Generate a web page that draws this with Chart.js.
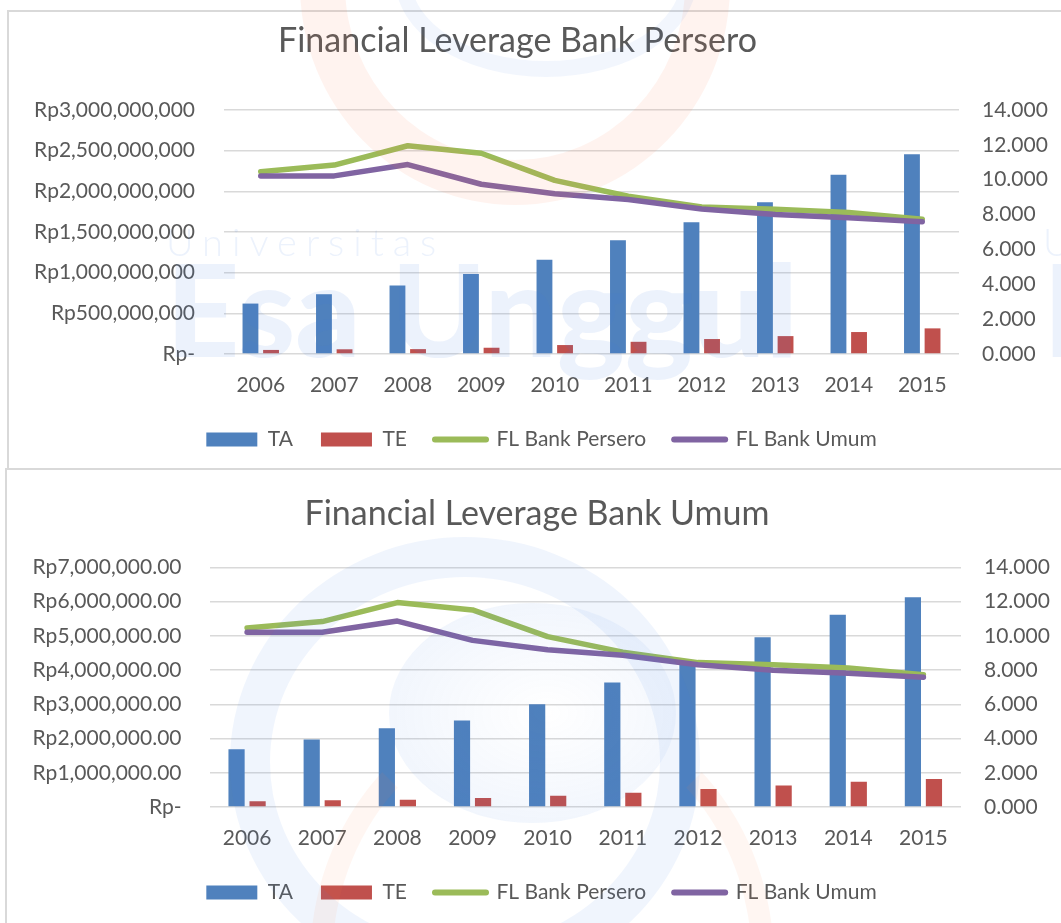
<!DOCTYPE html>
<html>
<head>
<meta charset="utf-8">
<title>Financial Leverage</title>
<script src="https://cdn.jsdelivr.net/npm/chart.js@4.4.1/dist/chart.umd.min.js"></script>
<style>
  html, body { margin: 0; padding: 0; background: #fff; }
  body { width: 1061px; height: 923px; overflow: hidden; position: relative; font-family: Lato, sans-serif; }
  .box { position: absolute; border: 2px solid #d9d9d9; }
  #box1 { left: 7px; top: 10px; width: 1100px; height: 456px; }
  #box2 { left: 5px; top: 468px; width: 1100px; height: 500px; }
  .wrap { position: absolute; left: 0; width: 1100px; }
  #wrap1 { top: 11px; height: 457px; }
  #wrap2 { top: 469px; height: 454px; }
  .title { position: absolute; left: 0; font-size: 34px; line-height: 34px; color: #595959; text-align: center; white-space: nowrap; }
  #title1 { top: 22px; width: 1035px; }
  #title2 { top: 495px; width: 1074px; }
  /* faint university watermark laid over the charts */
  .wm { position: absolute; pointer-events: none; white-space: nowrap; }
  .wm-small { font-size: 38px; font-weight: 300; letter-spacing: 9px; color: rgba(70, 130, 225, 0.10); line-height: 38px; }
  .wm-big { font-size: 128px; font-weight: 900; color: rgba(70, 130, 225, 0.10); line-height: 128px; }
  .ring { border-radius: 50%; }
</style>
</head>
<body>

<div class="box" id="box1"></div>
<div class="box" id="box2"></div>

<div class="wrap" id="wrap1"><canvas id="chartPersero" width="1100" height="457"></canvas></div>
<div class="wrap" id="wrap2"><canvas id="chartUmum" width="1100" height="454"></canvas></div>

<div class="title" id="title1">Financial Leverage Bank Persero</div>
<div class="title" id="title2">Financial Leverage Bank Umum</div>

<!-- watermark -->
<div class="wm ring" style="left:300px; top:-235px; width:340px; height:350px; border:45px solid rgba(250,125,80,0.09);"></div>
<div class="wm ring" style="left:395px; top:-120px; width:270px; height:165px; border:16px solid rgba(70,130,225,0.07);"></div>
<div class="wm wm-small" style="left:166px; top:222px;">Universitas</div>
<div class="wm wm-big" style="left:166px; top:244px;">Esa Unggul</div>
<div class="wm wm-small" style="left:1043px; top:222px;">Universitas</div>
<div class="wm wm-big" style="left:1043px; top:244px;">Esa Unggul</div>
<div class="wm ring" style="left:230px; top:537px; width:390px; height:370px; border:40px solid rgba(70,130,225,0.08);"></div>
<div class="wm ring" style="left:389px; top:603px; width:287px; height:220px; background:radial-gradient(ellipse at 55% 50%, rgba(255,255,255,0) 0%, rgba(70,130,225,0.10) 100%);"></div>
<div class="wm ring" style="left:310px; top:700px; width:420px; height:480px; border:22px solid rgba(250,125,80,0.07); border-top-color:transparent;"></div>

<script>
// Categories and series
var years = ['2006', '2007', '2008', '2009', '2010', '2011', '2012', '2013', '2014', '2015'];

// Bank Persero, Rupiah
var taPersero = [620000000, 735000000, 842000000, 985000000, 1160000000, 1398000000, 1620000000, 1865000000, 2205000000, 2455000000];
var tePersero = [50000000, 58000000, 60000000, 77000000, 110000000, 150000000, 184000000, 220000000, 270000000, 315000000];

// Bank Umum, Rupiah
var taUmum = [1690000, 1970000, 2300000, 2530000, 3000000, 3640000, 4200000, 4960000, 5620000, 6130000];
var teUmum = [166000, 195000, 215000, 260000, 330000, 420000, 525000, 630000, 740000, 820000];

// Financial leverage ratios (right axis)
var flPersero = [10.46, 10.84, 11.95, 11.52, 9.96, 9.05, 8.44, 8.31, 8.12, 7.73];
var flUmum = [10.22, 10.22, 10.87, 9.74, 9.19, 8.87, 8.32, 8.00, 7.82, 7.59];

// Right axis ticks
var flMax = 14;
var flStep = 2;

var textColor = '#595959';
var gridColor = '#d9d9d9';
var fontFamily = 'Lato, "Open Sans", sans-serif';

/**
 * Legend items in dataset order: boxes for the bars, short thick lines for the lines
 */
function legendLabels(chart) {
    return chart.data.datasets.map(function(ds, i) {
        var isLine = ds.type === 'line';
        return {
            text: ds.label,
            fillStyle: ds.backgroundColor,
            strokeStyle: ds.borderColor || ds.backgroundColor,
            lineWidth: isLine ? 6 : 0,
            lineCap: 'round',
            pointStyle: isLine ? 'line' : 'rect',
            hidden: false,
            datasetIndex: i,
            fontColor: textColor
        };
    });
}

/**
 * Build one of the two combo charts
 */
function renderLeverageChart(canvasId, cfg) {
    var ctx = document.getElementById(canvasId).getContext('2d');

    return new Chart(ctx, {
        data: {
            labels: years,
            datasets: [{
                type: 'bar',
                label: 'TA',
                data: cfg.ta,
                backgroundColor: '#4F81BD',
                yAxisID: 'y',
                order: 2, // lower order = left bar in the group
                categoryPercentage: 0.56,
                barPercentage: 0.77
            }, {
                type: 'bar',
                label: 'TE',
                data: cfg.te,
                backgroundColor: '#C0504D',
                yAxisID: 'y',
                order: 3,
                categoryPercentage: 0.56,
                barPercentage: 0.77
            }, {
                type: 'line',
                label: 'FL Bank Persero',
                data: flPersero,
                borderColor: '#9BBB59',
                backgroundColor: '#9BBB59',
                borderWidth: 5.5,
                borderCapStyle: 'round',
                borderJoinStyle: 'round',
                pointRadius: 0,
                tension: 0,
                yAxisID: 'y1',
                order: 1
            }, {
                type: 'line',
                label: 'FL Bank Umum',
                data: flUmum,
                borderColor: '#8064A2',
                backgroundColor: '#8064A2',
                borderWidth: 5.5,
                borderCapStyle: 'round',
                borderJoinStyle: 'round',
                pointRadius: 0,
                tension: 0,
                yAxisID: 'y1',
                order: 0 // drawn last, on top
            }]
        },
        options: {
            responsive: false,
            animation: false,
            layout: {
                padding: cfg.padding
            },
            scales: {
                x: {
                    grid: { display: false },
                    border: { display: false },
                    ticks: {
                        color: textColor,
                        font: { family: fontFamily, size: 21 },
                        padding: 11,
                        maxRotation: 0,
                        autoSkip: false
                    },
                    afterFit: function(scale) { scale.height = cfg.xHeight; }
                },
                y: {
                    position: 'left',
                    min: 0,
                    max: cfg.leftMax,
                    grid: { color: gridColor, lineWidth: 1.5, drawTicks: false },
                    border: { display: false },
                    ticks: {
                        stepSize: cfg.leftStep,
                        color: textColor,
                        font: { family: fontFamily, size: 21 },
                        padding: cfg.leftPad,
                        callback: cfg.leftFormat
                    },
                    afterFit: function(scale) { scale.width = cfg.leftWidth; }
                },
                y1: {
                    position: 'right',
                    min: 0,
                    max: flMax,
                    grid: { display: false, drawTicks: false },
                    border: { display: false },
                    ticks: {
                        stepSize: flStep,
                        color: textColor,
                        font: { family: fontFamily, size: 21 },
                        padding: 23,
                        callback: function(v) { return v.toFixed(3); }
                    },
                    afterFit: function(scale) { scale.width = cfg.rightWidth; }
                }
            },
            plugins: {
                title: { display: false },
                tooltip: { enabled: false },
                legend: {
                    display: true,
                    position: 'bottom',
                    labels: {
                        usePointStyle: true,
                        pointStyleWidth: 51,
                        boxHeight: 14,
                        padding: 28,
                        color: textColor,
                        font: { family: fontFamily, size: 21 },
                        generateLabels: legendLabels
                    }
                }
            }
        }
    });
}

renderLeverageChart('chartPersero', {
    ta: taPersero,
    te: tePersero,
    leftMax: 3000000000,
    leftStep: 500000000,
    leftPad: 29,
    leftWidth: 216,
    rightWidth: 116,
    xHeight: 47,
    padding: { left: 8, right: 25, top: 99, bottom: 8 },
    leftFormat: function(v) {
        return v === 0 ? 'Rp-' : 'Rp' + v.toLocaleString('en-US');
    }
});

renderLeverageChart('chartUmum', {
    ta: taUmum,
    te: teUmum,
    leftMax: 7000000,
    leftStep: 1000000,
    leftPad: 28,
    leftWidth: 203.5,
    rightWidth: 116,
    xHeight: 47,
    padding: { left: 6, right: 23, top: 98.5, bottom: 10 },
    leftFormat: function(v) {
        return v === 0 ? 'Rp-' : 'Rp' + v.toLocaleString('en-US', { minimumFractionDigits: 2, maximumFractionDigits: 2 });
    }
});
</script>
</body>
</html>
